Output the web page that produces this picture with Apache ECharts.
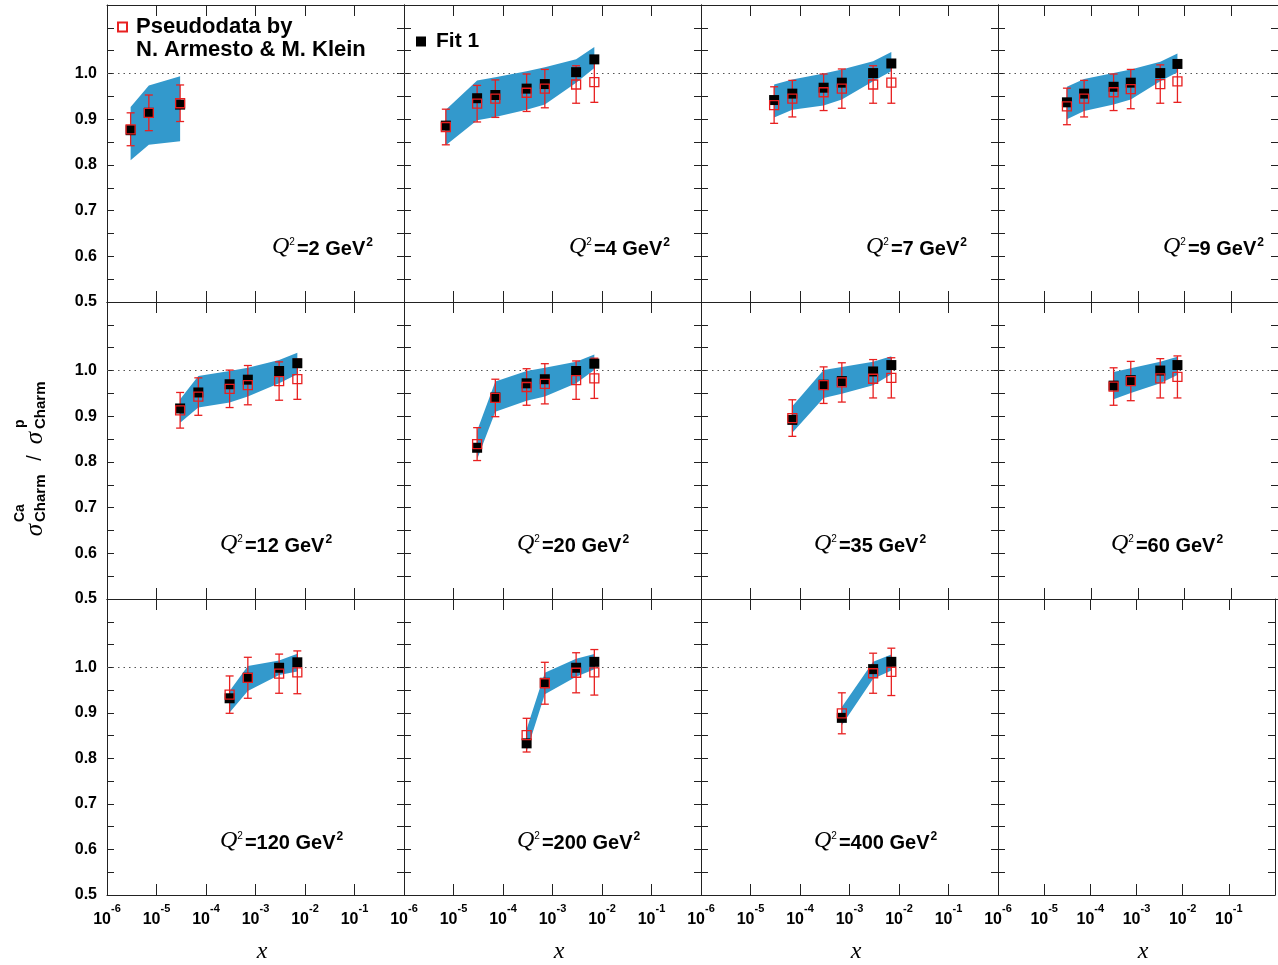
<!DOCTYPE html>
<html>
<head>
<meta charset="utf-8">
<script src="https://cdn.jsdelivr.net/npm/echarts@6/dist/echarts.min.js"></script>
<style>
html,body{margin:0;padding:0;background:#ffffff;}
#chart{width:1278px;height:965px;}
</style>
</head>
<body>
<div id="chart"></div>
<script>
// ---------------- data ----------------
const q2Values = [2, 4, 7, 9, 12, 20, 35, 60, 120, 200, 400];

const xPoints = [
  [3e-6, 7e-6, 3e-5],
  [7e-6, 3e-5, 7e-5, 3e-4, 7e-4, 3e-3, 7e-3],
  [3e-5, 7e-5, 3e-4, 7e-4, 3e-3, 7e-3],
  [3e-5, 7e-5, 3e-4, 7e-4, 3e-3, 7e-3],
  [3e-5, 7e-5, 3e-4, 7e-4, 3e-3, 7e-3],
  [3e-5, 7e-5, 3e-4, 7e-4, 3e-3, 7e-3],
  [7e-5, 3e-4, 7e-4, 3e-3, 7e-3],
  [3e-4, 7e-4, 3e-3, 7e-3],
  [3e-4, 7e-4, 3e-3, 7e-3],
  [3e-4, 7e-4, 3e-3, 7e-3],
  [7e-4, 3e-3, 7e-3]
];

const fitValues = [
  [0.876, 0.914, 0.932],
  [0.886, 0.946, 0.953, 0.967, 0.977, 1.003, 1.031],
  [0.942, 0.956, 0.969, 0.980, 1.001, 1.022],
  [0.937, 0.956, 0.971, 0.980, 1.001, 1.021],
  [0.917, 0.952, 0.970, 0.980, 0.999, 1.016],
  [0.831, 0.941, 0.972, 0.981, 0.999, 1.015],
  [0.892, 0.969, 0.977, 0.998, 1.012],
  [0.967, 0.979, 1.000, 1.012],
  [0.932, 0.977, 0.999, 1.011],
  [0.833, 0.966, 0.999, 1.012],
  [0.889, 0.996, 1.012]
];

const pseudoValues = [
  [0.878, 0.914, 0.935],
  [0.883, 0.934, 0.945, 0.958, 0.967, 0.976, 0.981],
  [0.931, 0.945, 0.959, 0.967, 0.976, 0.980],
  [0.928, 0.945, 0.959, 0.966, 0.977, 0.983],
  [0.913, 0.943, 0.960, 0.968, 0.977, 0.981],
  [0.839, 0.940, 0.964, 0.971, 0.979, 0.983],
  [0.896, 0.968, 0.974, 0.982, 0.984],
  [0.965, 0.977, 0.983, 0.986],
  [0.940, 0.977, 0.986, 0.989],
  [0.851, 0.965, 0.988, 0.989],
  [0.899, 0.987, 0.990]
];

const pseudoErrors = [
  [0.036, 0.039, 0.040],
  [0.039, 0.040, 0.041, 0.041, 0.042, 0.041, 0.044],
  [0.040, 0.040, 0.040, 0.043, 0.041, 0.045],
  [0.040, 0.040, 0.040, 0.043, 0.042, 0.046],
  [0.039, 0.041, 0.041, 0.043, 0.042, 0.044],
  [0.036, 0.041, 0.040, 0.044, 0.042, 0.044],
  [0.040, 0.040, 0.043, 0.042, 0.044],
  [0.041, 0.043, 0.043, 0.046],
  [0.041, 0.045, 0.043, 0.047],
  [0.037, 0.046, 0.044, 0.050],
  [0.045, 0.044, 0.052]
];

const bandLow = [
  [0.810, 0.844, 0.852],
  [0.843, 0.898, 0.905, 0.921, 0.932, 0.980, 1.012],
  [0.904, 0.921, 0.930, 0.943, 0.983, 1.005],
  [0.900, 0.918, 0.932, 0.943, 0.983, 1.003],
  [0.886, 0.919, 0.930, 0.943, 0.972, 0.992],
  [0.806, 0.910, 0.934, 0.943, 0.972, 1.001],
  [0.864, 0.940, 0.949, 0.968, 0.992],
  [0.937, 0.951, 0.972, 0.990],
  [0.901, 0.948, 0.983, 0.991],
  [0.815, 0.941, 0.979, 0.996],
  [0.873, 0.975, 0.993]
];

const bandHigh = [
  [0.927, 0.974, 0.994],
  [0.921, 0.985, 0.992, 1.005, 1.014, 1.031, 1.058],
  [0.976, 0.987, 1.000, 1.009, 1.027, 1.047],
  [0.971, 0.988, 1.001, 1.009, 1.026, 1.044],
  [0.937, 0.988, 0.999, 1.006, 1.023, 1.039],
  [0.868, 0.976, 0.999, 1.006, 1.019, 1.035],
  [0.922, 1.001, 1.008, 1.019, 1.031],
  [0.997, 1.005, 1.019, 1.030],
  [0.948, 1.003, 1.015, 1.030],
  [0.864, 0.988, 1.019, 1.029],
  [0.913, 1.012, 1.028]
];

const yTickLabels = ['0.5', '0.6', '0.7', '0.8', '0.9', '1.0'];

// ---------------- styling / layout ----------------
const SANS = '"Liberation Sans", Arial, Helvetica, sans-serif';
const SERIF = '"Liberation Serif", "Times New Roman", serif';
const AXIS_COLOR = '#222';
const BAND_COLOR = '#3399cc';
const ERR_COLOR = '#e82020';
const colLeft = [107, 404, 701, 998];
const rowTop = [5, 302, 599];
const W = 297, H = 297;

const grid = [], xAxis = [], yAxis = [], series = [], graphic = [];

function xLabelFormatter(v) {
  const e = Math.round(Math.log10(v));
  if (e >= 0) return '';
  return '{b|10}{s|' + e + '}';
}
function yLabelFormatter(v) {
  const t = (Math.round(v * 10) / 10).toFixed(1);
  if (Math.abs(v * 10 - Math.round(v * 10)) < 1e-6 && yTickLabels.indexOf(t) >= 0) return t;
  return '';
}

for (let p = 0; p < 12; p++) {
  const r = Math.floor(p / 4), c = p % 4;
  const bottomRow = r === 2;
  const leftCol = c === 0;
  grid.push({ left: colLeft[c], top: rowTop[r], width: W, height: H, containLabel: false });
  const axLine = { show: true, lineStyle: { color: AXIS_COLOR, width: 1 } };
  xAxis.push({
    type: 'log', logBase: 10, min: 1e-6, max: 1, gridIndex: p, position: 'bottom',
    axisLine: axLine,
    axisTick: { show: true, inside: true, length: 11, lineStyle: { color: AXIS_COLOR, width: 1 } },
    minorTick: { show: false }, splitLine: { show: false },
    axisLabel: {
      show: bottomRow, margin: 8, formatter: xLabelFormatter, color: '#000',
      rich: {
        b: { fontFamily: SANS, fontWeight: 'bold', fontSize: 16, lineHeight: 25, verticalAlign: 'bottom', color: '#000' },
        s: { fontFamily: SANS, fontWeight: 'bold', fontSize: 11, lineHeight: 13, verticalAlign: 'top', color: '#000' }
      }
    },
    name: bottomRow ? 'x' : '', nameLocation: 'middle', nameGap: 45,
    nameTextStyle: { fontFamily: SERIF, fontStyle: 'italic', fontSize: 24, color: '#000', padding: [0, 0, 0, 13] }
  });
  xAxis.push({
    type: 'log', logBase: 10, min: 1e-6, max: 1, gridIndex: p, position: 'top',
    axisLine: axLine,
    axisTick: { show: true, inside: true, length: 11, lineStyle: { color: AXIS_COLOR, width: 1 } },
    minorTick: { show: false }, splitLine: { show: false }, axisLabel: { show: false }
  });
  yAxis.push({
    type: 'value', min: 0.5, max: 1.15, interval: 0.05, gridIndex: p, position: 'left',
    axisLine: axLine,
    axisTick: { show: true, inside: true, length: 7, lineStyle: { color: AXIS_COLOR, width: 1 } },
    splitLine: { show: false },
    axisLabel: {
      show: leftCol, margin: 10, formatter: yLabelFormatter, color: '#000',
      fontFamily: SANS, fontWeight: 'bold', fontSize: 16
    }
  });
  yAxis.push({
    type: 'value', min: 0.5, max: 1.15, interval: 0.05, gridIndex: p, position: 'right',
    axisLine: axLine,
    axisTick: { show: true, inside: true, length: 7, lineStyle: { color: AXIS_COLOR, width: 1 } },
    splitLine: { show: false }, axisLabel: { show: false }
  });

  if (p >= q2Values.length) continue;

  const xs = xPoints[p], lo = bandLow[p], hi = bandHigh[p];
  const xi = 2 * p, yi = 2 * p;

  // uncertainty band of the fit
  series.push({
    type: 'custom', xAxisIndex: xi, yAxisIndex: yi, z: 2, silent: true,
    data: xs.map((x, i) => [x, lo[i], hi[i]]),
    encode: { x: 0, y: [1, 2] },
    renderItem: function (params, api) {
      if (params.dataIndex !== 0) return null;
      const pts = [];
      for (let i = 0; i < xs.length; i++) pts.push(api.coord([xs[i], hi[i]]));
      for (let i = xs.length - 1; i >= 0; i--) pts.push(api.coord([xs[i], lo[i]]));
      return { type: 'polygon', shape: { points: pts }, style: { fill: BAND_COLOR } };
    },
    markLine: {
      z: 1, silent: true, symbol: ['none', 'none'], label: { show: false },
      lineStyle: { type: [1.5, 4], color: '#555', width: 1.2 },
      data: [{ yAxis: 1 }]
    }
  });

  // error bars of the pseudodata
  series.push({
    type: 'custom', xAxisIndex: xi, yAxisIndex: yi, z: 3, silent: true,
    data: xs.map((x, i) => [x, pseudoValues[p][i], pseudoErrors[p][i]]),
    encode: { x: 0, y: 1 },
    renderItem: function (params, api) {
      const x = api.value(0), y = api.value(1), e = api.value(2);
      const t = api.coord([x, y + e]), b = api.coord([x, y - e]);
      const cap = 4;
      const st = { stroke: ERR_COLOR, lineWidth: 1.3 };
      return {
        type: 'group', children: [
          { type: 'line', shape: { x1: t[0], y1: t[1], x2: b[0], y2: b[1] }, style: st },
          { type: 'line', shape: { x1: t[0] - cap, y1: t[1], x2: t[0] + cap, y2: t[1] }, style: st },
          { type: 'line', shape: { x1: b[0] - cap, y1: b[1], x2: b[0] + cap, y2: b[1] }, style: st }
        ]
      };
    }
  });

  // fit points
  series.push({
    type: 'scatter', name: 'Fit 1', xAxisIndex: xi, yAxisIndex: yi, z: 4, silent: true,
    symbol: 'rect', symbolSize: 10,
    itemStyle: { color: '#000', opacity: 1 },
    data: xs.map((x, i) => [x, fitValues[p][i]])
  });

  // pseudodata points (open squares)
  series.push({
    type: 'scatter', name: 'Pseudodata by', xAxisIndex: xi, yAxisIndex: yi, z: 5, silent: true,
    symbol: 'rect', symbolSize: 9,
    itemStyle: { color: 'rgba(255,255,255,0)', borderColor: ERR_COLOR, borderWidth: 1.3, opacity: 1 },
    data: xs.map((x, i) => [x, pseudoValues[p][i]])
  });

  // Q^2 label
  graphic.push({
    type: 'text', silent: true,
    x: colLeft[c] + (r === 0 ? 165 : 113), y: rowTop[r] + 243,
    style: {
      text: '{q|Q}{qs|2}{m|=' + q2Values[p] + ' GeV}{ms|2}',
      textVerticalAlign: 'middle', verticalAlign: 'middle', fill: '#000',
      rich: {
        q: { fontFamily: SERIF, fontStyle: 'italic', fontSize: 24, lineHeight: 22, verticalAlign: 'bottom', fill: '#000', color: '#000' },
        qs: { fontFamily: SANS, fontSize: 10, lineHeight: 12, verticalAlign: 'top', fill: '#000', color: '#000', padding: [0, 2, 0, 0] },
        m: { fontFamily: SANS, fontWeight: 'bold', fontSize: 20, lineHeight: 22, verticalAlign: 'bottom', fill: '#000', color: '#000' },
        ms: { fontFamily: SANS, fontWeight: 'bold', fontSize: 12, lineHeight: 12, verticalAlign: 'top', fill: '#000', color: '#000', padding: [0, 0, 0, 1] }
      }
    }
  });
}

// legend second line
graphic.push({
  type: 'text', silent: true, x: 136, y: 50,
  style: { text: 'N. Armesto & M. Klein', font: 'bold 22px ' + SANS, fill: '#000', textVerticalAlign: 'middle', verticalAlign: 'middle' }
});

// y-axis title  sigma^Ca_Charm / sigma^p_Charm  (rotated)
graphic.push({
  type: 'group', x: 35, y: 452, rotation: Math.PI / 2, silent: true,
  children: [
    { type: 'text', x: -78, y: 0, style: { text: 'σ', font: 'italic 25px ' + SERIF, fill: '#000', textAlign: 'center', align: 'center', textVerticalAlign: 'middle', verticalAlign: 'middle' } },
    { type: 'text', x: -70, y: 6, style: { text: 'Charm', font: 'bold 15px ' + SANS, fill: '#000', textAlign: 'left', align: 'left', textVerticalAlign: 'middle', verticalAlign: 'middle' } },
    { type: 'text', x: -70, y: -15, style: { text: 'Ca', font: 'bold 14px ' + SANS, fill: '#000', textAlign: 'left', align: 'left', textVerticalAlign: 'middle', verticalAlign: 'middle' } },
    { type: 'text', x: -6, y: 0, style: { text: '/', font: '20px ' + SANS, fill: '#000', textAlign: 'center', align: 'center', textVerticalAlign: 'middle', verticalAlign: 'middle' } },
    { type: 'text', x: 14, y: 0, style: { text: 'σ', font: 'italic 25px ' + SERIF, fill: '#000', textAlign: 'center', align: 'center', textVerticalAlign: 'middle', verticalAlign: 'middle' } },
    { type: 'text', x: 23, y: 6, style: { text: 'Charm', font: 'bold 15px ' + SANS, fill: '#000', textAlign: 'left', align: 'left', textVerticalAlign: 'middle', verticalAlign: 'middle' } },
    { type: 'text', x: 24, y: -15, style: { text: 'p', font: 'bold 14px ' + SANS, fill: '#000', textAlign: 'left', align: 'left', textVerticalAlign: 'middle', verticalAlign: 'middle' } }
  ]
});

const option = {
  backgroundColor: '#ffffff',
  animation: false,
  grid: grid,
  xAxis: xAxis,
  yAxis: yAxis,
  legend: [
    {
      data: ['Pseudodata by'], left: 117, top: 16, orient: 'vertical', padding: 0,
      itemWidth: 9, itemHeight: 9, selectedMode: false,
      textStyle: { fontFamily: SANS, fontWeight: 'bold', fontSize: 22, color: '#000', padding: [0, 0, 0, 4] }
    },
    {
      data: ['Fit 1'], left: 416, top: 31, orient: 'vertical', padding: 0,
      itemWidth: 10, itemHeight: 10, selectedMode: false,
      textStyle: { fontFamily: SANS, fontWeight: 'bold', fontSize: 21, color: '#000', padding: [0, 0, 0, 5] }
    }
  ],
  series: series,
  graphic: graphic
};

const chart = echarts.init(document.getElementById('chart'), null, { renderer: 'canvas' });
chart.setOption(option);
</script>
</body>
</html>
